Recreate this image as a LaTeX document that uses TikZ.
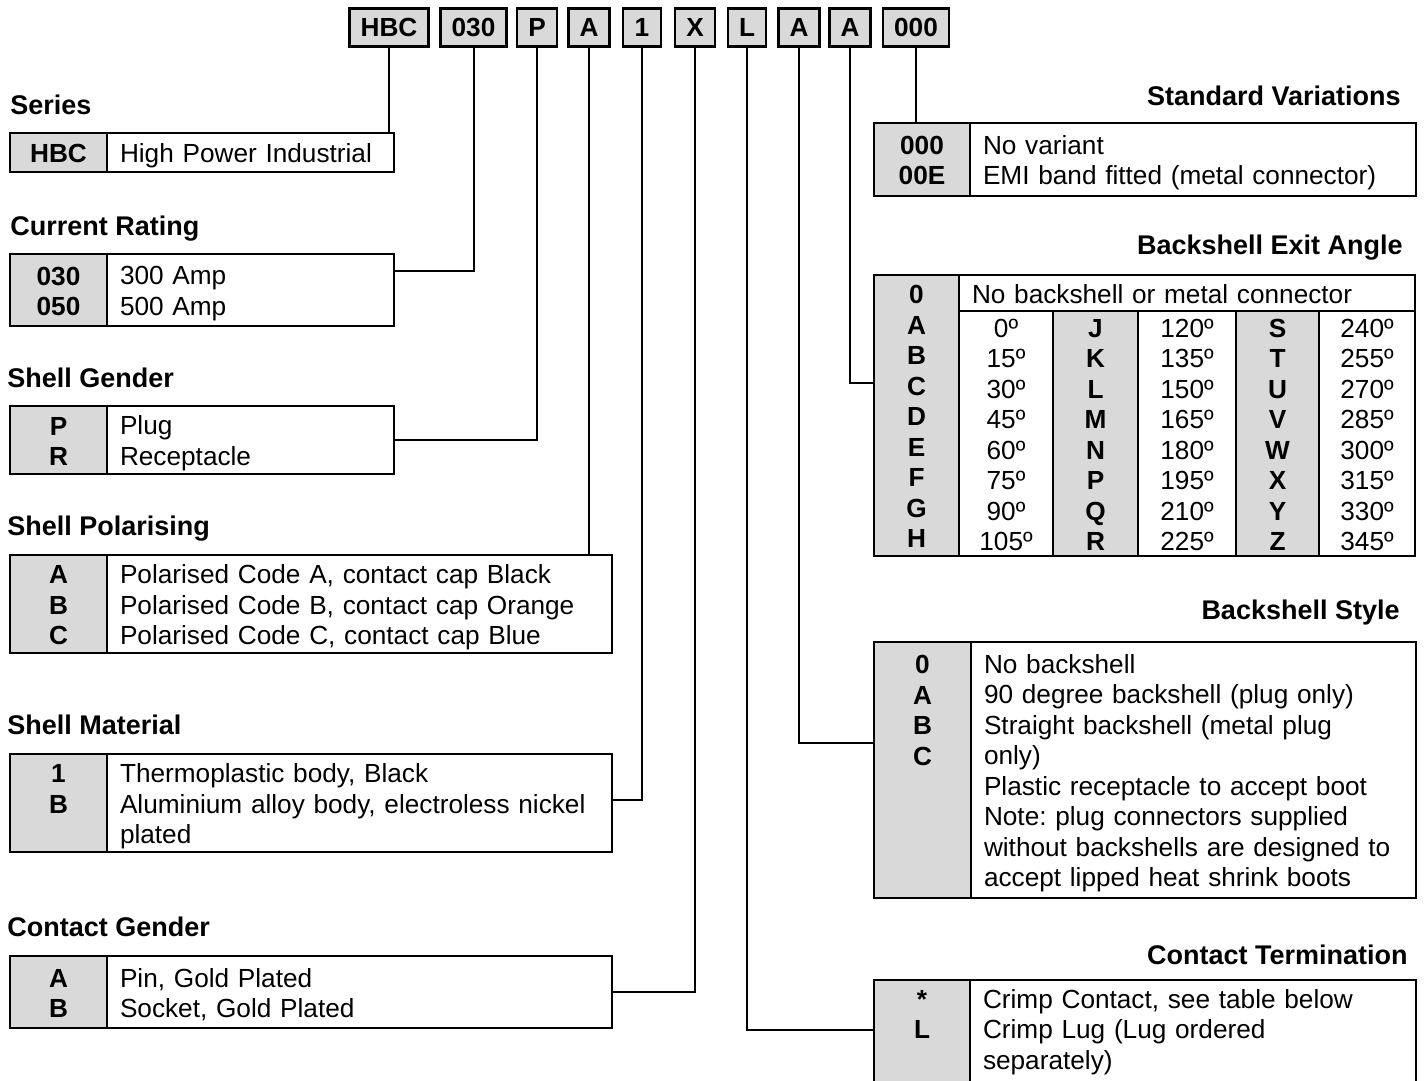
\documentclass[tikz,border=0pt]{standalone}
\usepackage{fontspec}
\setmainfont{Liberation Sans}
\usetikzlibrary{positioning}

\definecolor{keygray}{RGB}{217,217,217}
\newcommand\rowstrut{\rule[-2.5pt]{0pt}{15.25pt}}

\tikzset{
  codebox/.style={draw, fill=keygray, line width=1.2pt, font=\bfseries, minimum width=19pt, minimum height=19pt, inner xsep=5.5pt, inner ysep=0pt},
  heading/.style={font=\fontsize{13.5pt}{15.25pt}\selectfont\bfseries, inner sep=0pt},
  cell/.style={draw, line width=1pt, outer sep=0pt, inner ysep=0.5pt, execute at begin node={\lineskiplimit=-20pt\rowstrut}, execute at end node=\rowstrut},
  keycell/.style={cell, fill=keygray, font=\bfseries, align=center, inner xsep=2pt, text width=#1},
  desccell/.style={cell, fill=white, inner xsep=6.5pt, text width=#1, align=left},
  gridcell/.style={cell, inner ysep=0pt, inner xsep=2pt, minimum height=122.5pt, align=center, text width=#1},
  link/.style={line width=1pt}
}

\begin{document}
\fontsize{13.1pt}{15.25pt}\selectfont\frenchspacing\lineskiplimit=-20pt
\begin{tikzpicture}[x=0.5pt, y=-0.5pt]
\useasboundingbox (0,0) rectangle (1425,1081);
\clip (0,0) rectangle (1425,1081);
\fill[white] (0,0) rectangle (1425,1081);

% part number
\node[codebox] (cHBC) at (389,27.5) {HBC};
\node[codebox] (c030) at (473.5,27.5) {030};
\node[codebox] (cP)   at (537,27.5) {P};
\node[codebox] (cA1)  at (589,27.5) {A};
\node[codebox] (c1)   at (642,27.5) {1};
\node[codebox] (cX)   at (695,27.5) {X};
\node[codebox] (cL)   at (747,27.5) {L};
\node[codebox] (cA2)  at (799,27.5) {A};
\node[codebox] (cA3)  at (850,27.5) {A};
\node[codebox] (c000) at (916,27.5) {000};

% left column
\node[heading, anchor=base west] (hSer) at (10,114.5) {Series};
\node[keycell=44.5pt, minimum height=19.5pt, anchor=north west] (serK) at (10,133) {HBC};
\node[desccell=130.5pt, minimum height=19.5pt, right=0pt of serK] (serD) {High Power Industrial};

\node[heading, anchor=base west] (hRat) at (10,235.5) {Current Rating};
\node[keycell=44.5pt, minimum height=36pt, anchor=north west] (ratK) at (10,254) {030\\050};
\node[desccell=130.5pt, minimum height=36pt, right=0pt of ratK] (ratD) {300 Amp\\500 Amp};

\node[heading, anchor=base west] (hGen) at (7,387) {Shell Gender};
\node[keycell=44.5pt, minimum height=34pt, anchor=north west] (genK) at (10,406) {P\\R};
\node[desccell=130.5pt, minimum height=34pt, right=0pt of genK] (genD) {Plug\\Receptacle};

\node[heading, anchor=base west] (hPol) at (7,535) {Shell Polarising};
\node[keycell=44.5pt, minimum height=49pt, anchor=north west] (polK) at (10,555) {A\\B\\C};
\node[desccell=239.5pt, minimum height=49pt, right=0pt of polK] (polD) {Polarised Code A, contact cap Black\\Polarised Code B, contact cap Orange\\Polarised Code C, contact cap Blue};

\node[heading, anchor=base west] (hMat) at (7,734) {Shell Material};
\node[keycell=44.5pt, minimum height=49pt, anchor=north west] (matK) at (10,754) {1\\B\\~};
\node[desccell=239.5pt, minimum height=49pt, right=0pt of matK] (matD) {Thermoplastic body, Black\\Aluminium alloy body, electroless nickel\\plated};

\node[heading, anchor=base west] (hCg) at (7,936) {Contact Gender};
\node[keycell=44.5pt, minimum height=36pt, anchor=north west] (cgK) at (10,956) {A\\B};
\node[desccell=239.5pt, minimum height=36pt, right=0pt of cgK] (cgD) {Pin, Gold Plated\\Socket, Gold Plated};

% right column
\node[heading, anchor=base east] (hStd) at (1401,105) {Standard Variations};
\node[keycell=44pt, minimum height=36.5pt, anchor=north west] (stdK) at (874,123) {000\\00E};
\node[desccell=210pt, minimum height=36.5pt, right=0pt of stdK] (stdD) {No variant\\EMI band fitted (metal connector)};

\node[heading, anchor=base east] (hExit) at (1403,254) {Backshell Exit Angle};
\node[keycell=38.5pt, minimum height=140.5pt, anchor=north west] (exK) at (874,275) {0\\A\\B\\C\\D\\E\\F\\G\\H};
\node[desccell=215pt, minimum height=18pt, anchor=north west] (exHead) at (exK.north east) {No backshell or metal connector};
\node[gridcell=43pt, anchor=north west] (exC1) at (exHead.south west) {0º\\15º\\30º\\45º\\60º\\75º\\90º\\105º};
\node[gridcell=38.5pt, fill=keygray, font=\bfseries, right=0pt of exC1] (exC2) {J\\K\\L\\M\\N\\P\\Q\\R};
\node[gridcell=45pt, right=0pt of exC2] (exC3) {120º\\135º\\150º\\165º\\180º\\195º\\210º\\225º};
\node[gridcell=37.5pt, fill=keygray, font=\bfseries, right=0pt of exC3] (exC4) {S\\T\\U\\V\\W\\X\\Y\\Z};
\node[gridcell=44pt, right=0pt of exC4] (exC5) {240º\\255º\\270º\\285º\\300º\\315º\\330º\\345º};

\node[heading, anchor=base east] (hSty) at (1400,619) {Backshell Style};
\node[keycell=44.5pt, minimum height=128pt, anchor=north west] (stK) at (874,642) {0\\A\\B\\C\\~\\~\\~\\~};
\node[desccell=209.5pt, minimum height=128pt, right=0pt of stK] (stD) {No backshell\\90 degree backshell (plug only)\\Straight backshell (metal plug\\only)\\Plastic receptacle to accept boot\\Note: plug connectors supplied\\without backshells are designed to\\accept lipped heat shrink boots};

\node[heading, anchor=base east] (hTrm) at (1408,964) {Contact Termination};
\node[keycell=44pt, minimum height=63.75pt, anchor=north west] (trK) at (874,980) {*\\L\\~\\~};
\node[desccell=210pt, minimum height=63.75pt, right=0pt of trK] (trD) {Crimp Contact, see table below\\Crimp Lug (Lug ordered\\separately)\\~};

% links
\draw[link] (cHBC.south) -- (cHBC.south |- serD.north);
\draw[link] (c030.south) |- ([yshift=9.5pt]ratD.east);
\draw[link] (cP.south) |- (genD.east);
\draw[link] (cA1.south) -- (cA1.south |- polD.north);
\draw[link] (c1.south) |- ([yshift=1.5pt]matD.east);
\draw[link] (cX.south) |- (cgD.east);
\draw[link] (cL.south) |- ([yshift=7pt]trK.west);
\draw[link] (cA2.south) |- ([yshift=13.5pt]stK.west);
\draw[link] (cA3.south) |- ([yshift=16.25pt]exK.west);
\draw[link] (c000.south) -- (c000.south |- stdK.north);
\end{tikzpicture}
\end{document}
